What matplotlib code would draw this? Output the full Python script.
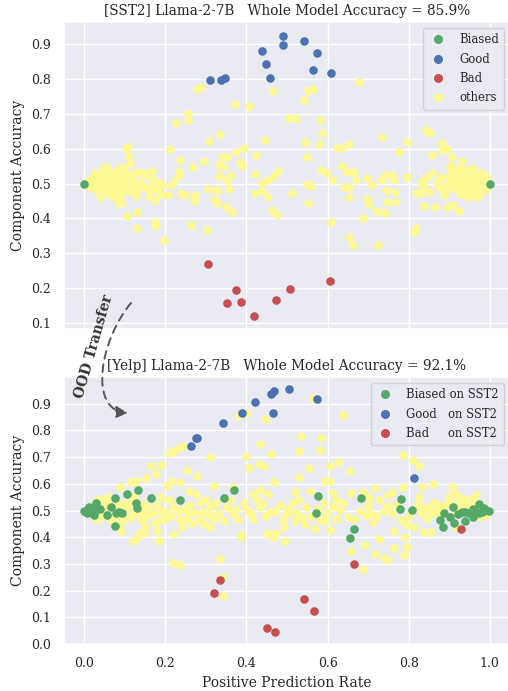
import matplotlib
matplotlib.use("Agg")
import matplotlib.pyplot as plt
import seaborn as sns
from matplotlib.patches import FancyArrowPatch
from matplotlib.lines import Line2D
from matplotlib.path import Path

# ---------------- data ----------------
sst2_acc = 85.9
yelp_acc = 92.1

# [SST2] panel
sst2_biased = [(0.0, 0.500), (1.0, 0.500)]
sst2_good = [(0.309, 0.798), (0.337, 0.797), (0.347, 0.803), (0.438, 0.880),
             (0.448, 0.845), (0.459, 0.804), (0.491, 0.925), (0.490, 0.898),
             (0.542, 0.909), (0.575, 0.876), (0.563, 0.825), (0.609, 0.819)]
sst2_bad = [(0.306, 0.268), (0.374, 0.194), (0.353, 0.157), (0.386, 0.158),
            (0.418, 0.120), (0.474, 0.166), (0.508, 0.196), (0.606, 0.220)]
sst2_others = [
    (0.279, 0.771), (0.287, 0.778), (0.256, 0.702), (0.256, 0.683), (0.225, 0.675),
    (0.371, 0.728), (0.406, 0.723), (0.466, 0.767), (0.542, 0.740), (0.552, 0.766),
    (0.565, 0.771), (0.505, 0.687), (0.522, 0.687), (0.581, 0.684), (0.586, 0.644),
    (0.677, 0.793), (0.335, 0.642), (0.307, 0.623), (0.212, 0.598), (0.445, 0.625),
    (0.544, 0.618), (0.579, 0.614), (0.394, 0.601), (0.374, 0.590), (0.423, 0.582),
    (0.550, 0.577), (0.624, 0.603), (0.636, 0.601), (0.654, 0.615), (0.735, 0.635),
    (0.795, 0.619), (0.776, 0.591), (0.797, 0.520), (0.340, 0.577), (0.351, 0.577),
    (0.236, 0.569), (0.269, 0.548), (0.296, 0.565), (0.384, 0.561), (0.388, 0.551),
    (0.333, 0.553), (0.343, 0.548), (0.636, 0.551), (0.665, 0.534), (0.649, 0.534),
    (0.583, 0.539), (0.598, 0.531), (0.613, 0.510), (0.478, 0.536), (0.468, 0.522),
    (0.421, 0.526), (0.362, 0.524), (0.333, 0.522), (0.351, 0.510), (0.234, 0.537),
    (0.234, 0.524), (0.222, 0.507), (0.214, 0.496), (0.439, 0.502), (0.452, 0.510),
    (0.550, 0.500), (0.558, 0.494), (0.640, 0.491), (0.654, 0.491), (0.698, 0.517),
    (0.710, 0.496), (0.731, 0.510), (0.741, 0.524), (0.760, 0.524), (0.764, 0.510),
    (0.743, 0.481), (0.766, 0.477), (0.669, 0.510), (0.306, 0.484), (0.328, 0.481),
    (0.356, 0.483), (0.420, 0.472), (0.438, 0.479), (0.513, 0.474), (0.273, 0.467),
    (0.249, 0.467), (0.238, 0.474), (0.207, 0.467), (0.271, 0.451), (0.320, 0.455),
    (0.327, 0.443), (0.349, 0.433), (0.365, 0.419), (0.454, 0.462), (0.464, 0.424),
    (0.475, 0.409), (0.551, 0.445), (0.654, 0.462), (0.698, 0.455), (0.702, 0.441),
    (0.747, 0.448), (0.770, 0.446), (0.723, 0.422), (0.741, 0.414), (0.688, 0.400),
    (0.608, 0.389), (0.653, 0.345), (0.662, 0.323), (0.725, 0.323), (0.813, 0.362),
    (0.817, 0.371), (0.263, 0.381), (0.302, 0.365), (0.196, 0.339), (0.175, 0.390),
    (0.178, 0.378), (0.130, 0.417), (0.105, 0.407), (0.131, 0.373), (0.175, 0.454),
    (0.089, 0.448), (0.093, 0.444), (0.107, 0.606), (0.103, 0.601), (0.110, 0.579),
    (0.113, 0.558), (0.168, 0.537), (0.187, 0.502), (0.191, 0.496), (0.156, 0.524),
    (0.140, 0.505), (0.131, 0.534),
    # right-hand cloud
    (0.842, 0.654), (0.852, 0.644), (0.883, 0.617), (0.895, 0.598), (0.882, 0.596),
    (0.858, 0.582), (0.907, 0.577), (0.931, 0.565), (0.902, 0.550), (0.858, 0.529),
    (0.842, 0.515), (0.830, 0.505), (0.838, 0.491), (0.817, 0.472), (0.827, 0.472),
    (0.850, 0.475), (0.838, 0.436), (0.864, 0.433), (0.887, 0.467), (0.895, 0.433),
    (0.910, 0.438), (0.924, 0.421), (0.891, 0.493), (0.912, 0.510),
    (0.900, 0.520), (0.910, 0.490), (0.920, 0.530), (0.930, 0.500), (0.940, 0.480),
    (0.950, 0.520), (0.960, 0.500), (0.970, 0.490), (0.980, 0.510), (0.990, 0.500),
    (0.930, 0.470), (0.950, 0.460), (0.960, 0.530), (0.970, 0.520), (0.940, 0.510),
    (0.920, 0.480), (0.980, 0.480), (0.990, 0.520), (0.960, 0.470), (0.900, 0.500),
    (0.910, 0.520), (0.940, 0.540), (0.970, 0.460), (0.950, 0.490), (0.980, 0.530),
    (0.930, 0.520), (0.890, 0.480), (0.960, 0.510), (0.985, 0.495), (0.945, 0.500),
    (0.915, 0.505), (0.925, 0.490), (0.935, 0.535), (0.955, 0.475), (0.965, 0.495),
    (0.975, 0.505), (0.975, 0.475), (0.945, 0.465), (0.905, 0.535), (0.925, 0.545),
    (0.955, 0.545), (0.990, 0.485), (0.870, 0.505), (0.880, 0.520), (0.875, 0.490),
    # left-hand cloud
    (0.048, 0.548), (0.057, 0.546), (0.086, 0.546), (0.037, 0.524), (0.023, 0.529),
    (0.039, 0.460), (0.084, 0.446), (0.066, 0.529), (0.078, 0.534), (0.099, 0.529),
    (0.115, 0.505), (0.123, 0.529), (0.145, 0.529), (0.140, 0.496), (0.160, 0.481),
    (0.119, 0.477), (0.094, 0.474), (0.066, 0.477), (0.049, 0.481), (0.033, 0.491),
    (0.016, 0.491), (0.008, 0.500), (0.012, 0.510), (0.020, 0.500), (0.030, 0.520),
    (0.040, 0.500), (0.050, 0.510), (0.060, 0.490), (0.070, 0.510), (0.080, 0.500),
    (0.090, 0.490), (0.100, 0.510), (0.110, 0.490), (0.120, 0.500), (0.130, 0.480),
    (0.140, 0.500), (0.150, 0.490), (0.030, 0.480), (0.050, 0.470), (0.070, 0.480),
    (0.090, 0.470), (0.110, 0.480), (0.040, 0.530), (0.060, 0.535), (0.080, 0.520),
    (0.100, 0.530), (0.120, 0.520), (0.020, 0.490), (0.015, 0.510), (0.025, 0.505),
    (0.035, 0.495), (0.055, 0.500), (0.065, 0.520), (0.075, 0.490), (0.085, 0.510),
    (0.095, 0.500), (0.105, 0.495), (0.115, 0.515), (0.165, 0.490), (0.180, 0.480),
    (0.170, 0.510), (0.160, 0.465), (0.190, 0.470), (0.045, 0.515), (0.062, 0.505),
    (0.088, 0.485), (0.072, 0.465), (0.028, 0.512), (0.098, 0.545), (0.128, 0.465),
]

# [Yelp] panel (colours follow the SST2 grouping)
yelp_biased = [
    (0.000, 0.499), (0.004, 0.500), (0.010, 0.505), (0.015, 0.497), (0.007, 0.490),
    (0.018, 0.490), (0.022, 0.510), (0.012, 0.515), (0.025, 0.495), (0.025, 0.483),
    (0.030, 0.529), (0.039, 0.505), (0.075, 0.547), (0.105, 0.560), (0.132, 0.576),
    (0.127, 0.529), (0.131, 0.511), (0.164, 0.547), (0.076, 0.443), (0.057, 0.485),
    (0.067, 0.514), (0.078, 0.489), (0.086, 0.495), (0.092, 0.489), (0.235, 0.541),
    (0.345, 0.547), (0.370, 0.576), (0.577, 0.555), (0.571, 0.491), (0.683, 0.547),
    (0.665, 0.431), (0.656, 0.396), (0.782, 0.545), (0.778, 0.504), (0.808, 0.501),
    (0.877, 0.464), (0.885, 0.437), (0.887, 0.489), (0.909, 0.514), (0.903, 0.477),
    (0.911, 0.454), (0.922, 0.487), (0.940, 0.461), (0.940, 0.493), (0.959, 0.505),
    (0.973, 0.524), (0.973, 0.489), (0.958, 0.474), (0.989, 0.501), (0.998, 0.499),
    (0.985, 0.508), (0.965, 0.494), (0.932, 0.495), (0.950, 0.490), (0.980, 0.495),
]
yelp_good = [(0.262, 0.740), (0.276, 0.771), (0.279, 0.771), (0.343, 0.828),
             (0.390, 0.864), (0.422, 0.906), (0.460, 0.938), (0.468, 0.946),
             (0.465, 0.867), (0.504, 0.954), (0.574, 0.917), (0.814, 0.621)]
yelp_bad = [(0.335, 0.241), (0.321, 0.192), (0.541, 0.167), (0.567, 0.123),
            (0.451, 0.061), (0.471, 0.046), (0.665, 0.301), (0.928, 0.432)]
yelp_others = [
    (0.564, 0.922), (0.638, 0.858), (0.378, 0.854), (0.402, 0.865), (0.446, 0.844),
    (0.534, 0.780), (0.585, 0.771), (0.530, 0.722), (0.581, 0.727), (0.433, 0.749),
    (0.460, 0.712), (0.398, 0.703), (0.406, 0.660), (0.432, 0.675), (0.443, 0.666),
    (0.554, 0.660), (0.605, 0.666), (0.626, 0.680), (0.656, 0.647), (0.530, 0.624),
    (0.785, 0.708), (0.811, 0.690), (0.826, 0.666), (0.860, 0.598), (0.834, 0.588),
    (0.468, 0.607), (0.593, 0.611), (0.607, 0.611), (0.209, 0.715), (0.221, 0.724),
    (0.233, 0.734), (0.244, 0.741), (0.309, 0.699), (0.278, 0.628), (0.254, 0.650),
    (0.203, 0.592), (0.217, 0.610), (0.237, 0.607), (0.165, 0.666), (0.177, 0.638),
    (0.188, 0.671), (0.153, 0.623), (0.114, 0.607), (0.127, 0.609), (0.087, 0.588),
    (0.319, 0.590), (0.258, 0.573), (0.368, 0.588), (0.417, 0.563), (0.454, 0.561),
    (0.433, 0.578), (0.556, 0.573), (0.519, 0.569), (0.613, 0.566), (0.716, 0.584),
    (0.748, 0.557), (0.760, 0.569), (0.785, 0.588), (0.908, 0.588), (0.916, 0.563),
    (0.184, 0.384), (0.127, 0.392), (0.119, 0.386), (0.137, 0.417), (0.147, 0.415),
    (0.180, 0.423), (0.090, 0.423), (0.221, 0.411), (0.386, 0.409), (0.386, 0.399),
    (0.450, 0.417), (0.474, 0.417), (0.466, 0.400), (0.494, 0.386), (0.492, 0.439),
    (0.568, 0.430), (0.605, 0.427), (0.538, 0.474), (0.593, 0.460), (0.658, 0.347),
    (0.687, 0.281), (0.693, 0.369), (0.716, 0.337), (0.728, 0.392), (0.739, 0.322),
    (0.747, 0.316), (0.765, 0.359), (0.788, 0.334), (0.795, 0.365), (0.792, 0.402),
    (0.763, 0.425), (0.711, 0.458), (0.695, 0.483), (0.664, 0.470), (0.650, 0.477),
    (0.639, 0.529), (0.658, 0.566), (0.687, 0.569), (0.703, 0.551), (0.728, 0.538),
    (0.746, 0.516), (0.759, 0.491), (0.781, 0.464), (0.797, 0.446), (0.814, 0.439),
    (0.826, 0.551), (0.838, 0.514), (0.850, 0.501), (0.859, 0.489), (0.867, 0.526),
    (0.875, 0.514), (0.838, 0.421), (0.854, 0.421), (0.899, 0.551), (0.926, 0.545),
    (0.940, 0.514), (0.957, 0.539), (0.977, 0.520), (0.335, 0.319), (0.341, 0.251),
    (0.341, 0.180), (0.219, 0.303), (0.235, 0.297), (0.241, 0.439), (0.255, 0.495),
    (0.286, 0.464), (0.307, 0.483), (0.333, 0.489), (0.286, 0.532), (0.311, 0.514),
    (0.352, 0.514), (0.368, 0.489), (0.401, 0.501), (0.417, 0.470), (0.433, 0.514),
    (0.458, 0.495), (0.482, 0.520), (0.499, 0.489), (0.515, 0.532), (0.523, 0.489),
    (0.548, 0.514), (0.581, 0.464), (0.597, 0.489), (0.613, 0.514), (0.630, 0.501),
    (0.155, 0.514), (0.172, 0.489), (0.188, 0.464), (0.204, 0.489), (0.221, 0.514),
    (0.237, 0.464), (0.139, 0.464), (0.123, 0.489), (0.106, 0.514), (0.098, 0.464),
    (0.041, 0.477), (0.049, 0.526), (0.033, 0.545), (0.061, 0.551), (0.065, 0.464),
    (0.082, 0.526), (0.123, 0.551), (0.146, 0.526), (0.090, 0.483), (0.965, 0.557),
    (0.973, 0.476), (0.916, 0.439), (0.050, 0.500), (0.060, 0.520), (0.070, 0.470),
    (0.100, 0.500), (0.110, 0.530), (0.140, 0.490), (0.160, 0.500), (0.180, 0.520),
    (0.200, 0.470), (0.210, 0.540), (0.230, 0.500), (0.250, 0.470), (0.260, 0.520),
    (0.270, 0.490), (0.295, 0.450), (0.300, 0.540), (0.320, 0.470), (0.345, 0.460),
    (0.360, 0.540), (0.380, 0.470), (0.395, 0.530), (0.410, 0.490), (0.425, 0.540),
    (0.445, 0.480), (0.470, 0.500), (0.490, 0.470), (0.505, 0.510), (0.530, 0.540),
    (0.560, 0.480), (0.590, 0.530), (0.620, 0.470), (0.680, 0.500), (0.700, 0.520),
    (0.720, 0.480), (0.740, 0.500), (0.770, 0.520), (0.800, 0.480), (0.820, 0.520),
    (0.845, 0.470), (0.870, 0.490), (0.890, 0.520), (0.930, 0.520), (0.950, 0.540),
    (0.020, 0.520), (0.030, 0.470), (0.045, 0.540), (0.085, 0.450), (0.150, 0.440),
    (0.190, 0.550), (0.310, 0.440), (0.275, 0.560), (0.545, 0.450), (0.620, 0.540),
    (0.030, 0.505), (0.045, 0.490), (0.055, 0.530), (0.075, 0.505), (0.095, 0.525),
    (0.115, 0.475), (0.135, 0.505), (0.155, 0.480), (0.175, 0.455), (0.195, 0.500),
    (0.215, 0.480), (0.245, 0.505), (0.265, 0.455), (0.290, 0.495), (0.325, 0.530),
    (0.375, 0.505), (0.440, 0.525), (0.520, 0.460), (0.575, 0.505), (0.705, 0.490),
    (0.830, 0.490), (0.860, 0.530), (0.885, 0.505), (0.905, 0.530), (0.935, 0.545),
    (0.960, 0.520), (0.985, 0.515), (0.990, 0.485), (0.945, 0.525), (0.915, 0.500),
]

# ---------------- plotting ----------------
sns.set_theme(style="darkgrid")
plt.rcParams["font.family"] = ["DejaVu Serif"]

c_green = "#55a868"
c_blue = "#4c72b0"
c_red = "#c44e52"
c_yellow = "#fcf994"
ms = 38

W, H = 508, 691
fig = plt.figure(figsize=(W / 100, H / 100), dpi=100)
ax1 = fig.add_axes([0.126, 0.524, 0.878, 0.444])
ax2 = fig.add_axes([0.126, 0.068, 0.878, 0.386])


def scatter(ax, pts, color, z):
    xs = [p[0] for p in pts]
    ys = [p[1] for p in pts]
    ax.scatter(xs, ys, s=ms, color=color, linewidths=0, zorder=z)


def handle(color):
    return Line2D([], [], marker="o", linestyle="", markersize=6.5,
                  markerfacecolor=color, markeredgewidth=0)


leg_kw = dict(loc="upper right", fontsize=8.4, handletextpad=1.0,
              borderpad=0.45, labelspacing=0.55, handlelength=1.6)

# top panel
scatter(ax1, sst2_others, c_yellow, 2)
scatter(ax1, sst2_biased, c_green, 3)
scatter(ax1, sst2_good, c_blue, 3)
scatter(ax1, sst2_bad, c_red, 3)
ax1.set_xlim(-0.05, 1.05)
ax1.set_ylim(0.082, 0.964)
ax1.set_xticks([0, 0.2, 0.4, 0.6, 0.8, 1.0])
ax1.set_xticklabels([])
ax1.set_yticks([0.1, 0.2, 0.3, 0.4, 0.5, 0.6, 0.7, 0.8, 0.9])
ax1.tick_params(labelsize=9)
ax1.set_ylabel("Component Accuracy", fontsize=10)
ax1.set_title(f"[SST2] Llama-2-7B   Whole Model Accuracy = {sst2_acc}%",
              fontsize=9.8, pad=5)
ax1.legend([handle(c_green), handle(c_blue), handle(c_red), handle(c_yellow)],
           ["Biased", "Good", "Bad", "others"], **leg_kw)

# bottom panel
scatter(ax2, yelp_others, c_yellow, 2)
scatter(ax2, yelp_biased, c_green, 3)
scatter(ax2, yelp_good, c_blue, 3)
scatter(ax2, yelp_bad, c_red, 3)
ax2.set_xlim(-0.05, 1.05)
ax2.set_ylim(0.0, 0.999)
ax2.set_xticks([0, 0.2, 0.4, 0.6, 0.8, 1.0])
ax2.set_yticks([0.0, 0.1, 0.2, 0.3, 0.4, 0.5, 0.6, 0.7, 0.8, 0.9])
ax2.tick_params(labelsize=9)
ax2.set_xlabel("Positive Prediction Rate", fontsize=10)
ax2.set_ylabel("Component Accuracy", fontsize=10)
ax2.set_title(f"[Yelp] Llama-2-7B   Whole Model Accuracy = {yelp_acc}%",
              fontsize=9.8, pad=5)
ax2.legend([handle(c_green), handle(c_blue), handle(c_red)],
           ["Biased on SST2", "Good   on SST2", "Bad     on SST2"], **leg_kw)

# OOD transfer arrow between the panels (cubic curve, pixel positions -> figure)
curve_px = [(131, 303), (100, 340), (88, 410), (128, 413)]
curve = Path([(x / W, 1 - y / H) for x, y in curve_px],
             [Path.MOVETO, Path.CURVE4, Path.CURVE4, Path.CURVE4])
arrow = FancyArrowPatch(path=curve, transform=fig.transFigure,
                        arrowstyle="-|>,head_length=7,head_width=3.5",
                        linestyle=(0, (4, 3)), linewidth=1.4,
                        color="#555555", zorder=10)
fig.patches.append(arrow)
fig.text(0.185, 0.499, "OOD Transfer", rotation=74, fontsize=10,
         fontweight="bold", ha="center", va="center", color="#333333")

fig.savefig("out.png", dpi=100)
